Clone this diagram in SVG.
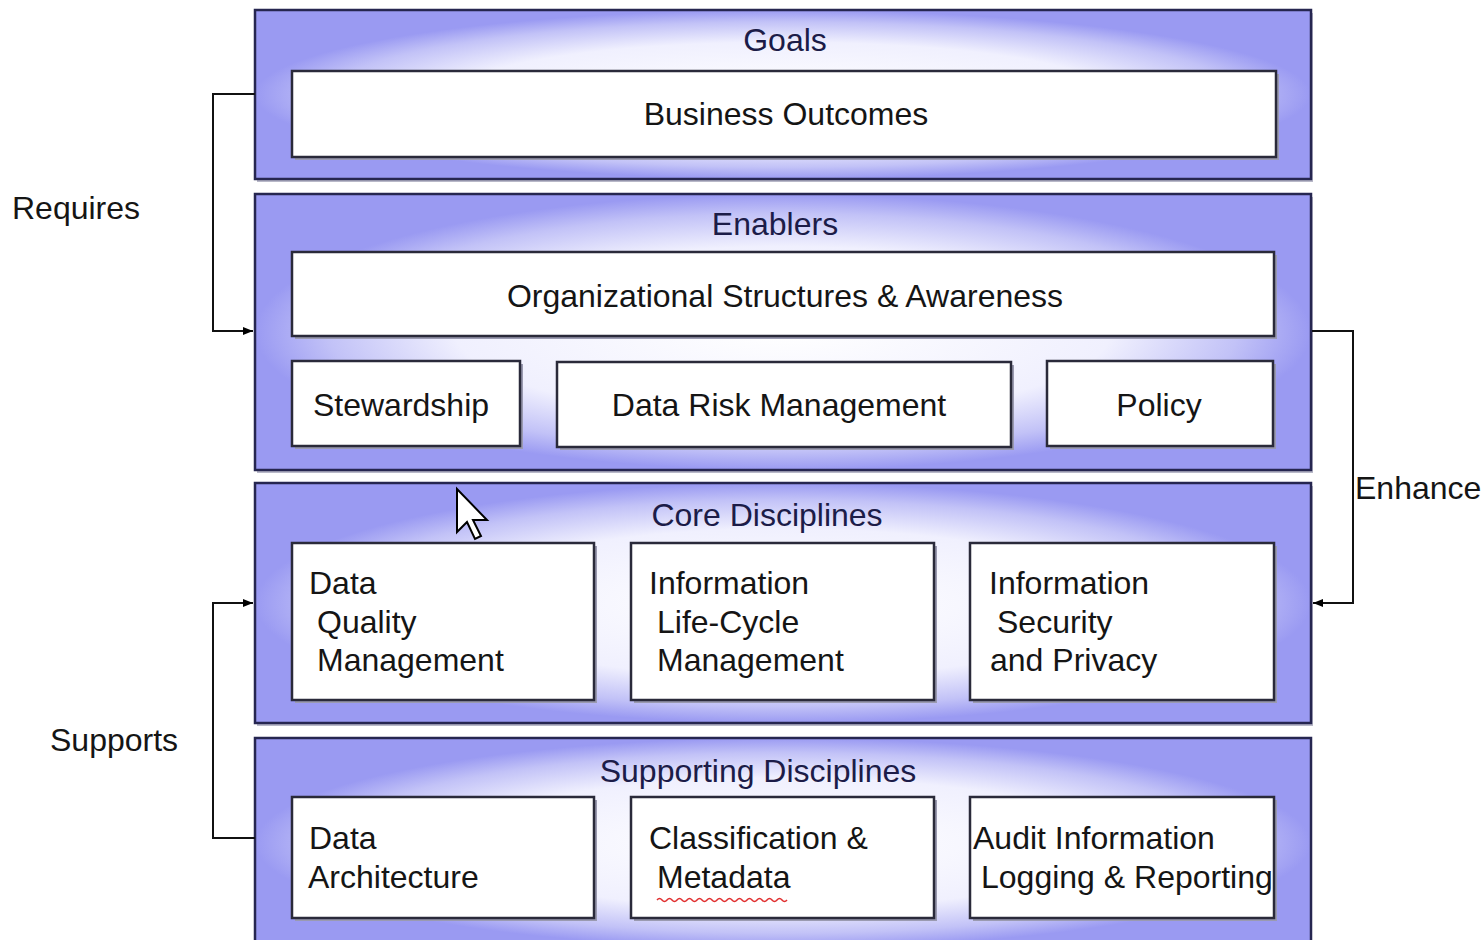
<svg xmlns="http://www.w3.org/2000/svg" width="1482" height="940" viewBox="0 0 1482 940">
<defs>
<radialGradient id="pg" cx="0.5" cy="0.5" r="0.5">
<stop offset="0" stop-color="#ffffff"/>
<stop offset="0.62" stop-color="#f0f0fe"/>
<stop offset="0.86" stop-color="#c2c2f7"/>
<stop offset="1" stop-color="#9a9af2"/>
</radialGradient>
<marker id="ah" viewBox="0 0 10 10" refX="10" refY="5" markerWidth="10" markerHeight="10" markerUnits="userSpaceOnUse" orient="auto">
<path d="M0,1 L10,5 L0,9 z" fill="#000"/>
</marker>
<style>
.panel{fill:url(#pg);stroke:#262650;stroke-width:2.5}
.pshadow{fill:#b8b8c8}
.box{fill:#ffffff;stroke:#2a2a3a;stroke-width:2.5}
.bshadow{fill:#9a9ab0}
.hd{font-family:"Liberation Sans",Arial,sans-serif;font-size:32px;fill:#1c1c48;text-anchor:middle}
.tx{font-family:"Liberation Sans",Arial,sans-serif;font-size:32px;fill:#151515}
.tc{text-anchor:middle}
.lbl{font-family:"Liberation Sans",Arial,sans-serif;font-size:32px;fill:#151515}
.conn{fill:none;stroke:#111;stroke-width:2}
</style>
</defs>
<rect width="1482" height="940" fill="#ffffff"/>

<g id="goals">
<rect class="pshadow" x="257" y="13" width="1056" height="169"/>
<rect class="panel" x="255" y="10" width="1056" height="169"/>
<text class="hd" x="785" y="51">Goals</text>
<g id="business-outcomes">
<rect class="bshadow" x="295" y="74" width="984" height="86"/>
<rect class="box" x="292" y="71" width="984" height="86"/>
<text class="tx tc" x="786" y="125">Business Outcomes</text>
</g>
</g>

<g id="enablers">
<rect class="pshadow" x="257" y="197" width="1056" height="276"/>
<rect class="panel" x="255" y="194" width="1056" height="276"/>
<text class="hd" x="775" y="235">Enablers</text>
<g id="org-structures">
<rect class="bshadow" x="295" y="255" width="982" height="84"/>
<rect class="box" x="292" y="252" width="982" height="84"/>
<text class="tx tc" x="785" y="307">Organizational Structures &amp; Awareness</text>
</g>
<g id="stewardship">
<rect class="bshadow" x="295" y="364" width="228" height="85"/>
<rect class="box" x="292" y="361" width="228" height="85"/>
<text class="tx tc" x="401" y="416">Stewardship</text>
</g>
<g id="data-risk">
<rect class="bshadow" x="560" y="365" width="454" height="85"/>
<rect class="box" x="557" y="362" width="454" height="85"/>
<text class="tx tc" x="779" y="416">Data Risk Management</text>
</g>
<g id="policy">
<rect class="bshadow" x="1050" y="364" width="226" height="85"/>
<rect class="box" x="1047" y="361" width="226" height="85"/>
<text class="tx tc" x="1159" y="416">Policy</text>
</g>
</g>

<g id="core-disciplines">
<rect class="pshadow" x="257" y="486" width="1056" height="240"/>
<rect class="panel" x="255" y="483" width="1056" height="240"/>
<text class="hd" x="767" y="526">Core Disciplines</text>
<g id="data-quality">
<rect class="bshadow" x="295" y="546" width="302" height="157"/>
<rect class="box" x="292" y="543" width="302" height="157"/>
<text class="tx"><tspan x="309" y="594">Data</tspan><tspan x="317" y="633">Quality</tspan><tspan x="317" y="671">Management</tspan></text>
</g>
<g id="info-lifecycle">
<rect class="bshadow" x="634" y="546" width="303" height="157"/>
<rect class="box" x="631" y="543" width="303" height="157"/>
<text class="tx"><tspan x="649" y="594">Information</tspan><tspan x="657" y="633">Life-Cycle</tspan><tspan x="657" y="671">Management</tspan></text>
</g>
<g id="info-security">
<rect class="bshadow" x="973" y="546" width="304" height="157"/>
<rect class="box" x="970" y="543" width="304" height="157"/>
<text class="tx"><tspan x="989" y="594">Information</tspan><tspan x="997" y="633">Security</tspan><tspan x="990" y="671">and Privacy</tspan></text>
</g>
</g>

<g id="supporting-disciplines">
<rect class="panel" x="255" y="738" width="1056" height="210"/>
<text class="hd" x="758" y="782">Supporting Disciplines</text>
<g id="data-architecture">
<rect class="bshadow" x="295" y="800" width="302" height="121"/>
<rect class="box" x="292" y="797" width="302" height="121"/>
<text class="tx"><tspan x="309" y="849">Data</tspan><tspan x="308" y="888">Architecture</tspan></text>
</g>
<g id="classification">
<rect class="bshadow" x="634" y="800" width="303" height="121"/>
<rect class="box" x="631" y="797" width="303" height="121"/>
<text class="tx"><tspan x="649" y="849">Classification &amp;</tspan><tspan x="657" y="888">Metadata</tspan></text>
<path d="M657,900 q2.5,-3 5,0 t5,0 t5,0 t5,0 t5,0 t5,0 t5,0 t5,0 t5,0 t5,0 t5,0 t5,0 t5,0 t5,0 t5,0 t5,0 t5,0 t5,0 t5,0 t5,0 t5,0 t5,0 t5,0 t5,0 t5,0 t5,0" fill="none" stroke="#e03030" stroke-width="1.5"/>
</g>
<g id="audit">
<rect class="bshadow" x="973" y="800" width="304" height="121"/>
<rect class="box" x="970" y="797" width="304" height="121"/>
<text class="tx"><tspan x="973" y="849">Audit Information</tspan><tspan x="981" y="888">Logging &amp; Reporting</tspan></text>
</g>
</g>

<g id="connectors">
<path class="conn" d="M255,94 H213 V331 H253" marker-end="url(#ah)"/>
<path class="conn" d="M1312,331 H1353 V603 H1313" marker-end="url(#ah)"/>
<path class="conn" d="M255,838 H213 V603 H253" marker-end="url(#ah)"/>
<text class="lbl" x="12" y="219">Requires</text>
<text class="lbl" x="1355" y="499">Enhance</text>
<text class="lbl" x="50" y="751">Supports</text>
</g>

<g id="cursor">
<path d="M457,489 V532 L467,522 L475,539 L481,536 L473,520 L487,520 Z" fill="#ffffff" stroke="#000" stroke-width="2" stroke-linejoin="miter"/>
</g>
</svg>
